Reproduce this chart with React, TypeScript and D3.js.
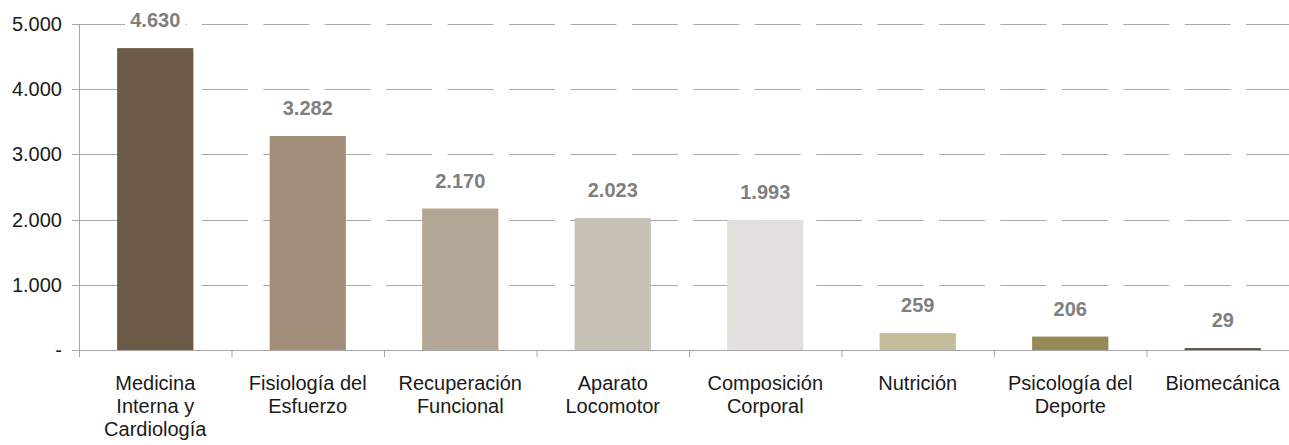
import React from "react";
import * as d3 from "d3";

const categories: string[] = [
  "Medicina\nInterna y\nCardiología",
  "Fisiología del\nEsfuerzo",
  "Recuperación\nFuncional",
  "Aparato\nLocomotor",
  "Composición\nCorporal",
  "Nutrición",
  "Psicología del\nDeporte",
  "Biomecánica",
];
const values: number[] = [4630, 3282, 2170, 2023, 1993, 259, 206, 29];
const barColors: string[] = [
  "#6b5b47",
  "#a38f79",
  "#b4a694",
  "#c7c0b5",
  "#e2e1dd",
  "#c5bd99",
  "#978a57",
  "#5a4f40",
];
const yTicks: number[] = [0, 1000, 2000, 3000, 4000, 5000];
const yTickLabels: string[] = ["-", "1.000", "2.000", "3.000", "4.000", "5.000"];

const W = 1289;
const H = 445;
const left = 79;
const step = 152.5;
const right = left + step * categories.length;
const top = 24;
const bottom = 350;
const FONT = "'Liberation Sans', Arial, sans-serif";

const fmt = (v: number) => d3.format(",")(v).replace(/,/g, ".");

export default function App() {
  const x = d3
    .scaleBand<string>()
    .domain(categories)
    .range([left, right])
    .paddingInner(0.5)
    .paddingOuter(0.25);
  const xb = d3.scaleBand<string>().domain(categories).range([left, right]).padding(0);
  const y = d3.scaleLinear().domain([0, 5000]).range([bottom, top]);

  return (
    <svg
      width={W}
      height={H}
      style={{ position: "absolute", left: 0, top: 0, background: "#fff" }}
      fontFamily={FONT}
    >
      {/* gridlines */}
      {yTicks
        .filter((t) => t > 0)
        .map((t) => (
          <line
            key={"g" + t}
            x1={left}
            x2={right}
            y1={Math.round(y(t)) + 0.5}
            y2={Math.round(y(t)) + 0.5}
            stroke="#a9a9a9"
            strokeWidth={1}
            strokeDasharray="46 15.43"
          />
        ))}
      {/* bars */}
      {categories.map((c, i) => (
        <rect
          key={"b" + i}
          x={x(c)}
          width={x.bandwidth()}
          y={y(values[i])}
          height={Math.max(1.5, bottom - y(values[i]))}
          fill={barColors[i]}
        />
      ))}
      {/* axes */}
      <line x1={left + 0.5} x2={left + 0.5} y1={top} y2={bottom + 7} stroke="#a6a6a6" />
      <line x1={left} x2={right} y1={bottom + 0.5} y2={bottom + 0.5} stroke="#a6a6a6" />
      {yTicks.map((t, i) => (
        <g key={"yt" + t}>
          <line
            x1={left - 7}
            x2={left}
            y1={Math.round(y(t)) + 0.5}
            y2={Math.round(y(t)) + 0.5}
            stroke="#a6a6a6"
          />
          <text
            x={62}
            y={y(t) + 7}
            textAnchor="end"
            fontSize={20}
            fill="#1a1a1a"
          >
            {yTickLabels[i]}
          </text>
        </g>
      ))}
      {categories.map((c, i) => (
        <line
          key={"xt" + i}
          x1={(xb(c) as number) + 0.5}
          x2={(xb(c) as number) + 0.5}
          y1={bottom}
          y2={bottom + 7}
          stroke="#a6a6a6"
        />
      ))}
      {/* category labels */}
      {categories.map((c, i) => (
        <text
          key={"xl" + i}
          textAnchor="middle"
          fontSize={20}
          fill="#1a1a1a"
        >
          {c.split("\n").map((ln, j) => (
            <tspan key={j} x={(x(c) as number) + x.bandwidth() / 2} y={389.5 + j * 23}>
              {ln}
            </tspan>
          ))}
        </text>
      ))}
      {/* value labels */}
      {categories.map((c, i) => {
        const cx = (x(c) as number) + x.bandwidth() / 2;
        const by = y(values[i]) - 21;
        const label = fmt(values[i]);
        const w = label.length * 10.4;
        return (
          <g key={"vl" + i}>
            <rect x={cx - w / 2 - 4} y={by - 16} width={w + 8} height={20} fill="#fff" />
            <text
              x={cx}
              y={by}
              textAnchor="middle"
              fontSize={20}
              fontWeight="bold"
              fill="#7f7f7f"
            >
              {label}
            </text>
          </g>
        );
      })}
    </svg>
  );
}
